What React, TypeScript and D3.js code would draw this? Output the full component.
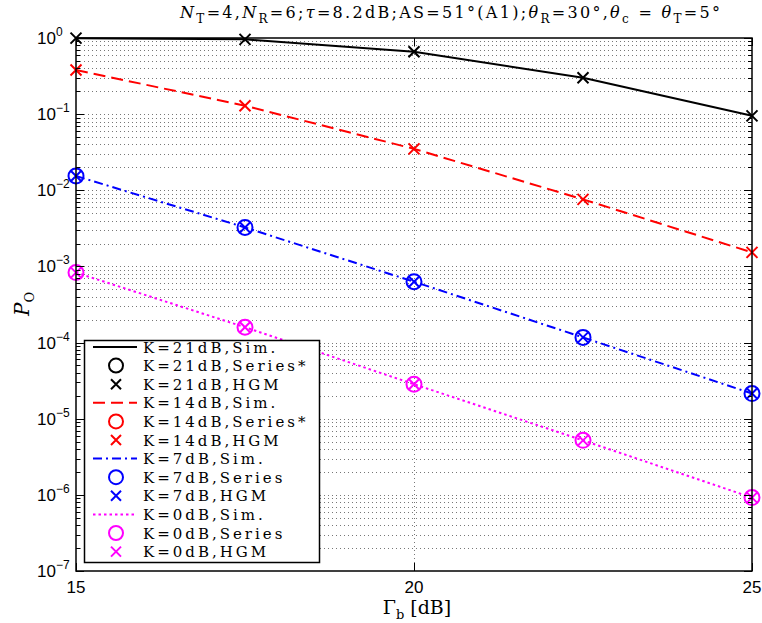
import React, { useEffect, useRef } from 'react';
import * as d3 from 'd3';

// Outage probability vs. Gamma_b
const gammaDb = [15, 17.5, 20, 22.5, 25];
const poK21 = [0.995, 0.96, 0.66, 0.3, 0.095];
const poK14 = [0.38, 0.129, 0.035, 0.0076, 0.00153];
const poK7 = [0.0154, 0.00325, 0.00063, 1.17e-4, 2.14e-5];
const poK0 = [8.3e-4, 1.59e-4, 2.84e-5, 5.2e-6, 9.2e-7];

const xTicks = [15, 20, 25];
const yExponents = [0, -1, -2, -3, -4, -5, -6, -7];

const legendLabels = [
  'K=21dB,Sim.', 'K=21dB,Series*', 'K=21dB,HGM',
  'K=14dB,Sim.', 'K=14dB,Series*', 'K=14dB,HGM',
  'K=7dB,Sim.', 'K=7dB,Series', 'K=7dB,HGM',
  'K=0dB,Sim.', 'K=0dB,Series', 'K=0dB,HGM',
];

const SERIF = '"DejaVu Serif", serif';
const SANS = '"Liberation Sans", Arial, sans-serif';

const App = () => {
  const svgRef = useRef<SVGSVGElement>(null);

  useEffect(() => {
    const svg = d3.select(svgRef.current);
    svg.selectAll('*').remove();

    const left = 76, right = 752, top = 38, bottom = 571;

    const x = d3.scaleLinear().domain([15, 25]).range([left, right]);
    const y = d3.scaleLog().domain([1e-7, 1]).range([bottom, top]);

    const series = [
      { values: poK21, color: '#000000', dash: null, circle: false },
      { values: poK14, color: '#ff0000', dash: '12,6', circle: false },
      { values: poK7, color: '#0000ff', dash: '9,4,2,4', circle: true },
      { values: poK0, color: '#ff00ff', dash: '2.5,3', circle: true },
    ];

    // minor + major y values for grid and ticks
    const yMinor: number[] = [];
    for (let e = -7; e < 0; e++) {
      for (let k = 2; k <= 9; k++) yMinor.push(k * Math.pow(10, e));
    }
    const yMajor = yExponents.map(e => Math.pow(10, e));

    // grid
    const grid = svg.append('g')
      .attr('stroke', '#777')
      .attr('stroke-width', 1)
      .attr('stroke-dasharray', '1,3');
    grid.selectAll('line.h')
      .data([...yMajor.slice(1, -1), ...yMinor])
      .enter().append('line')
      .attr('x1', left).attr('x2', right)
      .attr('y1', d => Math.round(y(d)) + 0.5)
      .attr('y2', d => Math.round(y(d)) + 0.5);
    grid.selectAll('line.v')
      .data(xTicks.slice(1, -1))
      .enter().append('line')
      .attr('x1', d => Math.round(x(d)) + 0.5)
      .attr('x2', d => Math.round(x(d)) + 0.5)
      .attr('y1', top).attr('y2', bottom);

    // data lines
    const line = d3.line<number>()
      .x((d, i) => x(gammaDb[i]))
      .y(d => y(d));

    series.forEach(s => {
      svg.append('path')
        .datum(s.values)
        .attr('d', line)
        .attr('fill', 'none')
        .attr('stroke', s.color)
        .attr('stroke-width', 2)
        .attr('stroke-dasharray', s.dash);
    });

    // markers
    const drawX = (g: any, cx: number, cy: number, r: number, color: string) => {
      g.append('path')
        .attr('d', `M${cx - r},${cy - r}L${cx + r},${cy + r}M${cx - r},${cy + r}L${cx + r},${cy - r}`)
        .attr('stroke', color)
        .attr('stroke-width', 2)
        .attr('fill', 'none');
    };
    const drawCircle = (g: any, cx: number, cy: number, r: number, color: string) => {
      g.append('circle')
        .attr('cx', cx).attr('cy', cy).attr('r', r)
        .attr('stroke', color)
        .attr('stroke-width', 2)
        .attr('fill', 'none');
    };

    const marks = svg.append('g');
    series.forEach(s => {
      s.values.forEach((v, i) => {
        if (s.circle) drawCircle(marks, x(gammaDb[i]), y(v), 7.5, s.color);
        drawX(marks, x(gammaDb[i]), y(v), 5.5, s.color);
      });
    });

    // axes box
    svg.append('rect')
      .attr('x', left).attr('y', top)
      .attr('width', right - left).attr('height', bottom - top)
      .attr('fill', 'none')
      .attr('stroke', '#000')
      .attr('stroke-width', 1.5);

    const ticks = svg.append('g').attr('stroke', '#000').attr('stroke-width', 1);
    yMajor.forEach(v => {
      const yy = Math.round(y(v)) + 0.5;
      ticks.append('line').attr('x1', left).attr('x2', left + 8).attr('y1', yy).attr('y2', yy);
      ticks.append('line').attr('x1', right).attr('x2', right - 8).attr('y1', yy).attr('y2', yy);
    });
    yMinor.forEach(v => {
      const yy = Math.round(y(v)) + 0.5;
      ticks.append('line').attr('x1', left).attr('x2', left + 4).attr('y1', yy).attr('y2', yy);
      ticks.append('line').attr('x1', right).attr('x2', right - 4).attr('y1', yy).attr('y2', yy);
    });
    xTicks.forEach(v => {
      const xx = Math.round(x(v)) + 0.5;
      ticks.append('line').attr('x1', xx).attr('x2', xx).attr('y1', bottom).attr('y2', bottom - 8);
      ticks.append('line').attr('x1', xx).attr('x2', xx).attr('y1', top).attr('y2', top + 8);
    });

    // x tick labels
    svg.append('g').selectAll('text')
      .data(xTicks)
      .enter().append('text')
      .attr('x', d => x(d))
      .attr('y', 593)
      .attr('text-anchor', 'middle')
      .style('font-family', SANS)
      .style('font-size', '17px')
      .text(d => d);

    // y tick labels 10^e
    yExponents.forEach(e => {
      svg.append('text')
        .attr('x', 56)
        .attr('y', y(Math.pow(10, e)) + 6)
        .attr('text-anchor', 'end')
        .style('font-family', SANS)
        .style('font-size', '17px')
        .text('10');
      svg.append('text')
        .attr('x', 56)
        .attr('y', y(Math.pow(10, e)) - 2)
        .style('font-family', SANS)
        .style('font-size', '12px')
        .text(e === 0 ? '0' : `\u2212${-e}`);
    });

    // x label
    const xl = svg.append('text')
      .attr('x', 417).attr('y', 614)
      .attr('text-anchor', 'middle')
      .style('font-family', SERIF)
      .style('font-size', '19px');
    xl.append('tspan').text('\u0393');
    xl.append('tspan').attr('dy', 5).style('font-size', '13px').text('b');
    xl.append('tspan').attr('dy', -5).text(' [dB]');

    // y label
    const yl = svg.append('text')
      .attr('transform', 'translate(29,304) rotate(-90)')
      .attr('text-anchor', 'middle')
      .style('font-family', SERIF)
      .style('font-size', '20px');
    yl.append('tspan').style('font-style', 'italic').text('P');
    yl.append('tspan').attr('dy', 5).style('font-size', '13px').text('O');

    // title
    const titleParts: [string, string][] = [
      ['N', 'i'], ['T', 's'], ['=4,', 'n'], ['N', 'i'], ['R', 's'], ['=6;', 'n'],
      ['\u03c4', 'i'], ['=8.2dB;AS=51\u00b0(A1);', 'n'], ['\u03b8', 'i'], ['R', 's'],
      ['=30\u00b0,', 'n'], ['\u03b8', 'i'], ['c', 's'], [' = ', 'n'], ['\u03b8', 'i'],
      ['T', 's'], ['=5\u00b0', 'n'],
    ];
    const title = svg.append('text')
      .attr('x', 180).attr('y', 18)
      .style('font-family', SERIF)
      .style('font-size', '16px')
      .style('letter-spacing', '2.3px');
    let sub = false;
    titleParts.forEach(([txt, kind]) => {
      const ts = title.append('tspan').text(txt);
      if (kind === 'i') ts.style('font-style', 'italic');
      if (kind === 's') {
        ts.attr('dy', sub ? 0 : 5).style('font-size', '12px');
        sub = true;
      } else if (sub) {
        ts.attr('dy', -5);
        sub = false;
      }
    });

    // legend
    const lg = svg.append('g');
    lg.append('rect')
      .attr('x', 84.5).attr('y', 340.5)
      .attr('width', 235).attr('height', 222)
      .attr('fill', '#fff')
      .attr('stroke', '#000')
      .attr('stroke-width', 1.5);

    legendLabels.forEach((label, i) => {
      const s = series[Math.floor(i / 3)];
      const ry = 347 + i * 18.6;
      const kind = i % 3;
      if (kind === 0) {
        lg.append('line')
          .attr('x1', 93).attr('x2', 137)
          .attr('y1', ry).attr('y2', ry)
          .attr('stroke', s.color)
          .attr('stroke-width', 2)
          .attr('stroke-dasharray', s.dash);
      } else if (kind === 1) {
        drawCircle(lg, 116, ry, 7, s.color);
      } else {
        drawX(lg, 116, ry, 5, s.color);
      }
      lg.append('text')
        .attr('x', 143)
        .attr('y', ry + 5.5)
        .style('font-family', SERIF)
        .style('font-size', '15px')
        .style('letter-spacing', '3px')
        .text(label);
    });
  }, []);

  return (
    <div style={{ position: 'absolute', left: 0, top: 0 }}>
      <svg ref={svgRef} width={762} height={623} style={{ display: 'block', background: '#fff' }} />
    </div>
  );
};

export default App;
